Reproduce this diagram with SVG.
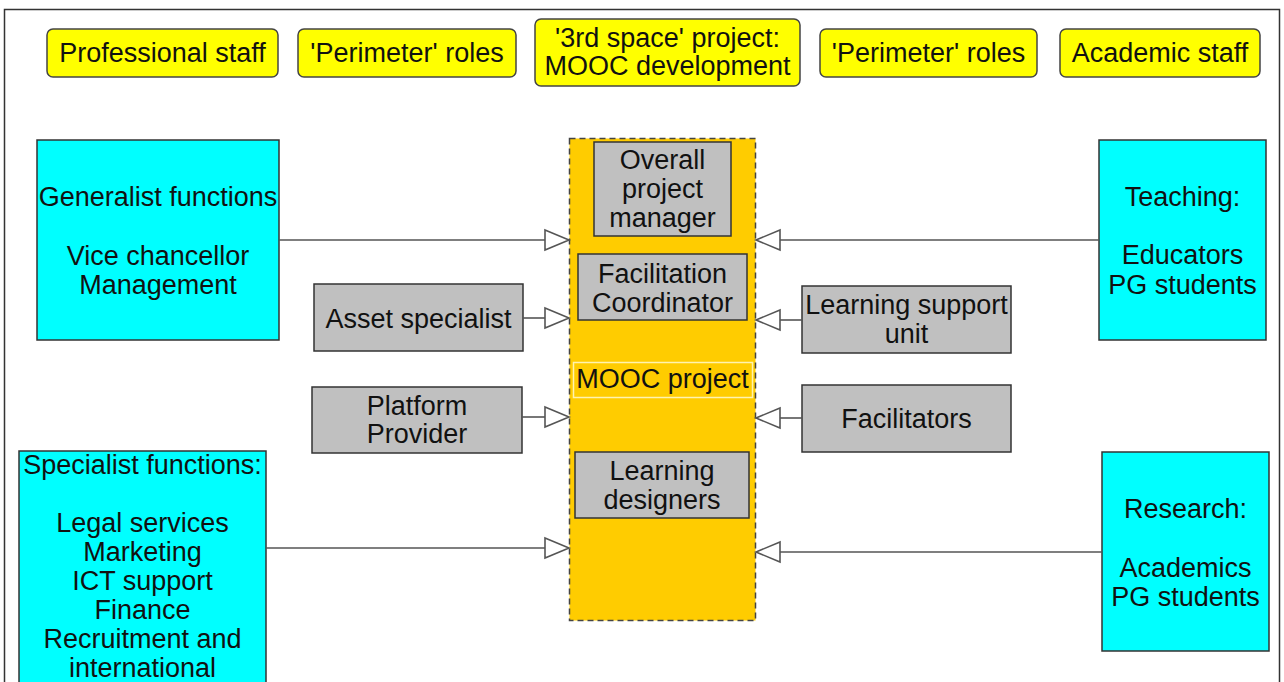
<svg xmlns="http://www.w3.org/2000/svg" width="1284" height="682" viewBox="0 0 1284 682">
<defs>
<style>
.t{font-family:"Liberation Sans",Arial,sans-serif;font-size:27px;fill:#111;text-anchor:middle}
.tag{fill:#ffff00;stroke:#444;stroke-width:1.5}
.cy{fill:#00ffff;stroke:#333;stroke-width:1.5}
.gr{fill:#c0c0c0;stroke:#333;stroke-width:1.5}
.ln{stroke:#555;stroke-width:1.6;fill:none}
.ah{fill:#fff;stroke:#555;stroke-width:1.6;stroke-linejoin:miter}
</style>
</defs>
<rect x="0" y="0" width="1284" height="682" fill="#fff"/>
<rect x="4.5" y="9.5" width="1275" height="690" fill="none" stroke="#333" stroke-width="1.5"/>

<g id="top-professional"><rect class="tag" x="47" y="29" width="231" height="48" rx="6"/><text class="t" x="162.5" y="62">Professional staff</text></g>
<g id="top-perimeter-left"><rect class="tag" x="298" y="29" width="218" height="48" rx="6"/><text class="t" x="407" y="62">'Perimeter' roles</text></g>
<g id="top-3rd-space"><rect class="tag" x="535" y="19" width="265" height="67" rx="6"/><text class="t" x="667.5" y="47">'3rd space' project:</text><text class="t" x="667.5" y="75">MOOC development</text></g>
<g id="top-perimeter-right"><rect class="tag" x="820" y="29" width="217" height="48" rx="6"/><text class="t" x="928.5" y="62">'Perimeter' roles</text></g>
<g id="top-academic"><rect class="tag" x="1060" y="29" width="200" height="48" rx="6"/><text class="t" x="1160" y="62">Academic staff</text></g>

<g id="mooc-project">
<rect x="569.5" y="138.5" width="186" height="482" fill="#ffcc00" stroke="#444" stroke-width="1.5" stroke-dasharray="6,4"/>
<rect x="573.5" y="362.5" width="179" height="35" fill="none" stroke="#fff3b0" stroke-width="1.5"/>
<text class="t" x="662.5" y="388">MOOC project</text>
</g>
<g id="overall-pm"><rect class="gr" x="594" y="142" width="137" height="94"/><text class="t" x="662.5" y="169">Overall</text><text class="t" x="662.5" y="198">project</text><text class="t" x="662.5" y="227">manager</text></g>
<g id="facilitation-coordinator"><rect class="gr" x="578" y="254" width="169" height="66"/><text class="t" x="662.5" y="283">Facilitation</text><text class="t" x="662.5" y="312">Coordinator</text></g>
<g id="learning-designers"><rect class="gr" x="575" y="452" width="174" height="66"/><text class="t" x="662" y="480">Learning</text><text class="t" x="662" y="509">designers</text></g>

<g id="generalist"><rect class="cy" x="37" y="140" width="242" height="200"/><text class="t" x="158" y="206">Generalist functions</text><text class="t" x="158" y="265">Vice chancellor</text><text class="t" x="158" y="294">Management</text></g>
<g id="asset-specialist"><rect class="gr" x="314" y="284" width="209" height="67"/><text class="t" x="418.5" y="328">Asset specialist</text></g>
<g id="platform-provider"><rect class="gr" x="312" y="387" width="210" height="66"/><text class="t" x="417" y="415">Platform</text><text class="t" x="417" y="443">Provider</text></g>
<g id="specialist"><rect class="cy" x="19" y="451" width="247" height="240"/><text class="t" x="142.5" y="474">Specialist functions:</text><text class="t" x="142.5" y="532">Legal services</text><text class="t" x="142.5" y="561">Marketing</text><text class="t" x="142.5" y="590">ICT support</text><text class="t" x="142.5" y="619">Finance</text><text class="t" x="142.5" y="648">Recruitment and</text><text class="t" x="142.5" y="677">international</text></g>

<g id="teaching"><rect class="cy" x="1099" y="140" width="167" height="200"/><text class="t" x="1182.5" y="206">Teaching:</text><text class="t" x="1182.5" y="264">Educators</text><text class="t" x="1182.5" y="294">PG students</text></g>
<g id="learning-support"><rect class="gr" x="802" y="286" width="209" height="67"/><text class="t" x="906.5" y="314">Learning support</text><text class="t" x="906.5" y="343">unit</text></g>
<g id="facilitators"><rect class="gr" x="802" y="385" width="209" height="67"/><text class="t" x="906.5" y="428">Facilitators</text></g>
<g id="research"><rect class="cy" x="1102" y="452" width="167" height="199"/><text class="t" x="1185.5" y="518">Research:</text><text class="t" x="1185.5" y="577">Academics</text><text class="t" x="1185.5" y="606">PG students</text></g>

<g id="connectors">
<line class="ln" x1="279" y1="240" x2="545" y2="240"/><path class="ah" d="M545,230 L569,240 L545,250 Z"/>
<line class="ln" x1="523" y1="318" x2="545" y2="318"/><path class="ah" d="M545,308 L569,318 L545,328 Z"/>
<line class="ln" x1="522" y1="417" x2="545" y2="417"/><path class="ah" d="M545,407 L569,417 L545,427 Z"/>
<line class="ln" x1="266" y1="548" x2="545" y2="548"/><path class="ah" d="M545,538 L569,548 L545,558 Z"/>
<line class="ln" x1="1099" y1="240" x2="780" y2="240"/><path class="ah" d="M780,230 L756,240 L780,250 Z"/>
<line class="ln" x1="802" y1="320" x2="780" y2="320"/><path class="ah" d="M780,310 L756,320 L780,330 Z"/>
<line class="ln" x1="802" y1="418" x2="780" y2="418"/><path class="ah" d="M780,408 L756,418 L780,428 Z"/>
<line class="ln" x1="1102" y1="552" x2="780" y2="552"/><path class="ah" d="M780,542 L756,552 L780,562 Z"/>
</g>
</svg>
